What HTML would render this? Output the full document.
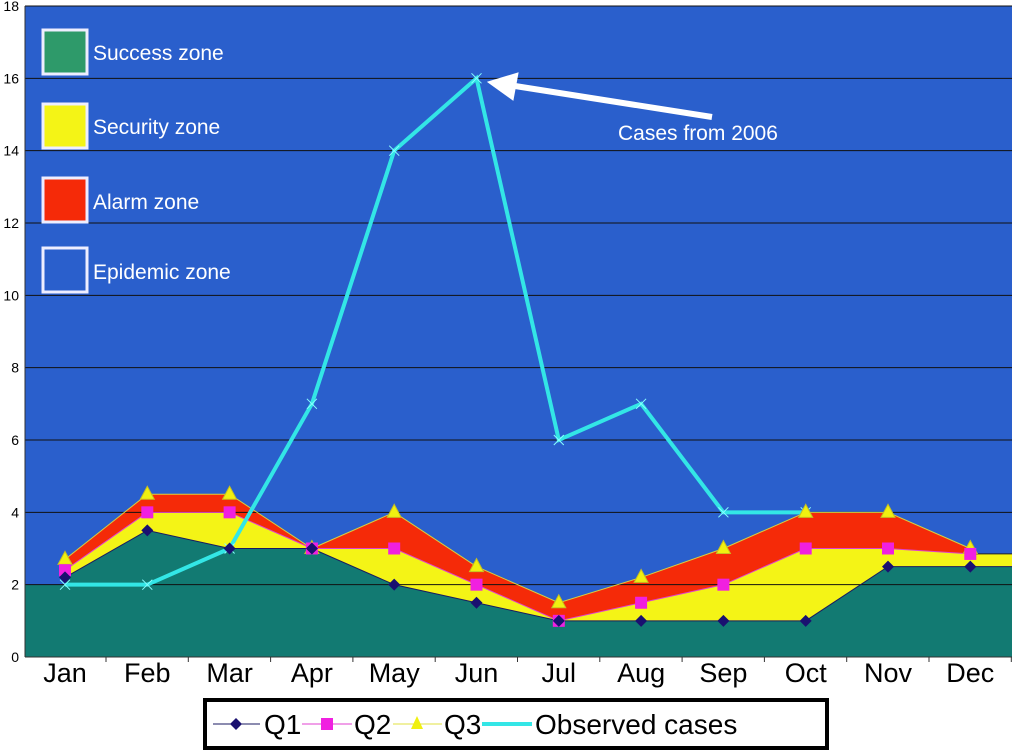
<!DOCTYPE html>
<html><head><meta charset="utf-8"><style>
body{margin:0;background:#fff;}
svg{display:block;font-family:"Liberation Sans",Arial,sans-serif;}
</style></head><body>
<svg id="chart" width="1014" height="753" viewBox="0 0 1014 753"></svg>
<script>
const months=["Jan","Feb","Mar","Apr","May","Jun","Jul","Aug","Sep","Oct","Nov","Dec"];
const q1=[2.2,3.5,3,3,2,1.5,1,1,1,1,2.5,2.5];
const q2=[2.4,4,4,3,3,2,1,1.5,2,3,3,2.85];
const q3=[2.7,4.5,4.5,3,4,2.5,1.5,2.2,3,4,4,3];
const observed=[2,2,3,7,14,16,6,7,4,4];
const yTicks=[0,2,4,6,8,10,12,14,16,18];
const NS="http://www.w3.org/2000/svg";
const svg=document.getElementById('chart');
const L=25,R=1012,T=6,B=657;
const x=i=>65+i*82.3;
const y=v=>B-(v/18)*(B-T);
function el(tag,attrs,parent){const e=document.createElementNS(NS,tag);for(const k in attrs)e.setAttribute(k,attrs[k]);(parent||svg).appendChild(e);return e;}
// background
let bg=el('rect',{x:L,y:T,width:R-L,height:B-T,fill:'#2a5fcc'});


// areas
function pts(arr){return arr.map((v,i)=>x(i)+','+y(v));}
const n=months.length;
let green=el('polygon',{points:[L+','+B,L+','+y(2),x(0)+','+y(2)].concat(pts(q1)).concat([R+','+y(q1[n-1]),R+','+B]).join(' '),fill:'#127a72'});


let ypts=pts(q2).concat([R+','+y(q2[n-1]),R+','+y(q1[n-1])]).concat(pts(q1).reverse());
let yellow=el('polygon',{points:ypts.join(' '),fill:'#f4f416'});


let red=el('polygon',{points:pts(q3).concat(pts(q2).reverse()).join(' '),fill:'#f52a08'});


// gridlines + y labels
yTicks.forEach(v=>{
  if(v>0){let g=el('line',{x1:L,x2:R,y1:y(v),y2:y(v),stroke:'#111','stroke-width':1});
  
  }
  let t=el('text',{x:19,y:y(v)+5,'text-anchor':'end','font-size':14,fill:'#000'});t.textContent=v;
  
  
});
el('line',{x1:L,x2:L,y1:T,y2:B,stroke:'#333'});
el('line',{x1:L,x2:R,y1:B,y2:B,stroke:'#333'});
months.forEach((m,i)=>{
  let t=el('text',{x:x(i),y:682,'text-anchor':'middle','font-size':27,fill:'#000'});t.textContent=m;
  
  
  el('line',{x1:x(i)+41,x2:x(i)+41,y1:B,y2:B+5,stroke:'#333'});
});
// lines
function line(arr,color,w,name){let p=el('polyline',{points:pts(arr).join(' '),fill:'none',stroke:color,'stroke-width':w});

}
line(q1,'#1a1a60',1,'q1-line');
line(q2,'#e040d0',1,'q2-line');
line(q3,'#d8d040',1,'q3-line');
el('line',{x1:x(n-1),x2:R,y1:y(q1[n-1]),y2:y(q1[n-1]),stroke:'#1a1a60'});
el('line',{x1:x(n-1),x2:R,y1:y(q2[n-1]),y2:y(q2[n-1]),stroke:'#222'});
line(observed,'#33e6e6',4,'observed-line');
observed.forEach((v,i)=>{let c=el('path',{d:`M${x(i)-5},${y(v)-5}L${x(i)+5},${y(v)+5}M${x(i)-5},${y(v)+5}L${x(i)+5},${y(v)-5}`,stroke:'#8ff','stroke-width':1});

});
// markers
q3.forEach((v,i)=>{let m=el('polygon',{points:`${x(i)},${y(v)-8} ${x(i)-7},${y(v)+5} ${x(i)+7},${y(v)+5}`,fill:'#f0f010',stroke:'#c8c020'});

});
q2.forEach((v,i)=>{let m=el('rect',{x:x(i)-6,y:y(v)-6,width:12,height:12,fill:'#f020e0'});

});
q1.forEach((v,i)=>{let m=el('polygon',{points:`${x(i)},${y(v)-6} ${x(i)+6},${y(v)} ${x(i)},${y(v)+6} ${x(i)-6},${y(v)}`,fill:'#1a1070'});

});
// zone legend
const zones=[["Success zone","#2e9a6a",30,52],["Security zone","#f4f416",104,126],["Alarm zone","#f52a08",178,201],["Epidemic zone","#2a5fcc",248,271]];
zones.forEach(z=>{let r=el('rect',{x:43,y:z[2],width:44,height:44,fill:z[1],stroke:'#eef','stroke-width':3});


let t=el('text',{x:93,y:z[3]+8,'font-size':21,fill:'#fff'});t.textContent=z[0];

});
// annotation
let ar=el('path',{d:'M712,117 L515,86',stroke:'#fff','stroke-width':6,fill:'none'});


el('polygon',{points:'488,82 518,73 513,100',fill:'#fff',stroke:'#fff'});
let at=el('text',{x:618,y:140,'font-size':21,fill:'#fff'});at.textContent='Cases from 2006';


// bottom legend
const lg=el('g',{});


el('rect',{x:205,y:700,width:622,height:48,fill:'#fff',stroke:'#000','stroke-width':4},lg);
el('line',{x1:213,x2:260,y1:724,y2:724,stroke:'#1a1a60'},lg);
el('polygon',{points:'236,718 242,724 236,730 230,724',fill:'#1a1070'},lg);
let t1=el('text',{x:264,y:734,'font-size':28},lg);t1.textContent='Q1';
el('line',{x1:302,x2:352,y1:724,y2:724,stroke:'#e040d0'},lg);
el('rect',{x:321,y:718,width:12,height:12,fill:'#f020e0'},lg);
let t2=el('text',{x:354,y:734,'font-size':28},lg);t2.textContent='Q2';
el('line',{x1:393,x2:442,y1:724,y2:724,stroke:'#e0e040'},lg);
el('polygon',{points:'417,716 411,729 423,729',fill:'#f0f010'},lg);
let t3=el('text',{x:444,y:734,'font-size':28},lg);t3.textContent='Q3';
el('line',{x1:482,x2:532,y1:724,y2:724,stroke:'#33e6e6','stroke-width':4},lg);
let t4=el('text',{x:535,y:734,'font-size':28},lg);t4.textContent='Observed cases';
</script>
</body></html>
